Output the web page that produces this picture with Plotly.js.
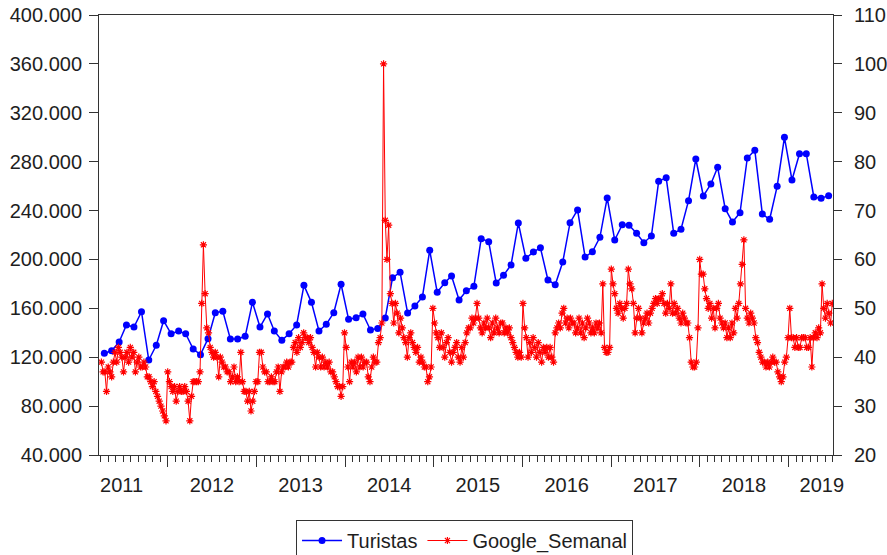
<!DOCTYPE html>
<html>
<head>
<meta charset="utf-8">
<script src="https://cdn.plot.ly/plotly-3.0.1.min.js"></script>
<style>html,body{margin:0;padding:0;background:#fff;}#chart{width:887px;height:555px;}</style>
</head>
<body>
<div id="chart"></div>
<script>
// ---- Data: Turistas (monthly, from April 2011) ----
const turistasStart = [2011, 4];
const turistas2011 = [123200,125300,132500,146400,144700,157200,117700,129800,149900];
const turistas2012 = [139200,141500,139200,126700,122100,135200,156400,157600,134900,134900,137100,164900];
const turistas2013 = [144700,155400,141500,133800,139200,146400,178800,164900,141500,146900,156400,179700];
const turistas2014 = [151000,152300,155400,142300,143600,152100,185100,189500,156200,161900,169300,207500];
const turistas2015 = [173100,181000,186500,166800,174400,178000,217000,214500,180700,187000,195500,229800];
const turistas2016 = [200900,206100,209600,183200,179300,197900,230100,240500,202000,206300,218100,250300];
const turistas2017 = [215900,228400,227900,221400,213700,219200,263900,266900,221400,224700,248100,282200];
const turistas2018 = [251900,261700,275400,241500,230600,238200,283000,289300,237200,232800,259800,299900];
const turistas2019 = [265000,286500,286500,251100,250000,252200];

// ---- Data: Google_Semanal (weekly, first week 2011-04-03) ----
const googleStart = '2011-04-03';
const google2011 = [39,37,37,33,38,37,36,39,41,39,42,41,40,37,40,41,39,42,40,41,37,39,40,38,38,39,38,36,36,35,34,35,33,32,31,30,29,28,27];
const google2012 = [37,35,34,33,34,31,33,34,33,33,34,33,31,27,32,35,35,35,35,37,51,63,53,46,45,42,41,40,41,40,36,40,39,38,38,37,37,35,36,38,35,36,35,41,35,33,33,31,33,29,31,33,35];
const google2013 = [35,41,41,38,37,37,35,35,36,35,35,37,38,33,37,38,38,39,38,39,39,42,43,41,44,42,43,45,44,44,43,44,42,41,38,41,40,38,40,38,39,38,39,37,37,36,35,34,34,32,34,45];
const google2014 = [42,38,35,39,38,39,37,40,38,40,38,39,39,36,35,38,40,39,39,43,44,47,100,68,60,67,53,51,47,51,49,45,48,46,44,43,40,44,45,43,42,41,42,39,40,39,38,38,35,36,38,50];
const google2015 = [47,45,44,42,45,42,40,43,44,41,39,41,42,43,40,39,42,40,43,45,46,46,48,47,48,51,48,46,45,47,46,48,46,44,47,45,48,46,45,47,47,45,46,45,46,44,43,42,41,40,41,40];
const google2016 = [51,46,44,40,43,41,44,42,40,43,41,39,42,41,42,40,42,40,39,45,46,47,46,49,50,47,48,46,48,47,47,45,46,48,45,47,44,46,48,47,45,46,45,47,46,47,45,55,42,41,41,42];
const google2017 = [58,55,53,50,49,51,50,48,50,51,58,55,54,51,45,48,50,48,45,47,48,49,47,49,50,51,52,51,52,52,53,51,49,51,50,55,49,51,49,50,48,47,49,48,47,47,44,39,38,38,39,46,60];
const google2018 = [57,57,54,52,50,51,48,50,46,50,51,48,47,46,47,44,46,44,47,45,50,48,51,55,59,64,50,48,47,49,48,47,44,43,41,40,39,39,38,39,38,39,40,39,39,37,36,35,36,39,40,44];
const google2019 = [50,44,44,42,44,42,42,44,44,44,42,42,44,38,44,45,44,46,45,55,50,48,51,49,47,51];

// ---- Tick labels ----
const yearLabels = ['2011','2012','2013','2014','2015','2016','2017','2018','2019'];

// ---- Build series ----
const turistas = [].concat(turistas2011, turistas2012, turistas2013, turistas2014, turistas2015, turistas2016, turistas2017, turistas2018, turistas2019);
const turistasDates = turistas.map((v, i) => {
  const m0 = turistasStart[1] - 1 + i;
  const y = turistasStart[0] + Math.floor(m0 / 12);
  const m = (m0 % 12) + 1;
  return y + '-' + String(m).padStart(2, '0') + '-15';
});

const google = [].concat(google2011, google2012, google2013, google2014, google2015, google2016, google2017, google2018, google2019);
const g0 = Date.parse(googleStart + 'T00:00:00Z');
const googleDates = google.map((v, i) => new Date(g0 + i * 7 * 86400000).toISOString().slice(0, 10));

// ---- Layout helpers (positions, not data) ----
const xRange = ['2011-03-24', '2019-07-03'];
const labelPos = yearLabels.map(y => y === '2011' ? '2011-06-25' : (y === '2019' ? '2019-05-18' : y + '-07-01'));

const axisColor = '#333333';
const textColor = '#1e1e1e';
const fontFam = 'Liberation Sans, Arial, Helvetica, sans-serif';

const traces = [
  {
    x: turistasDates, y: turistas, name: 'Turistas', type: 'scatter', mode: 'lines+markers',
    xaxis: 'x', yaxis: 'y',
    line: {color: '#0000FF', width: 1.5},
    marker: {symbol: 'circle', size: 7, color: '#0000FF'}
  },
  {
    x: googleDates, y: google, name: 'Google_Semanal', type: 'scatter', mode: 'lines+markers',
    xaxis: 'x', yaxis: 'y2',
    line: {color: '#FF0000', width: 1},
    marker: {symbol: 'asterisk-open', size: 6, color: '#FF0000', line: {color: '#FF0000', width: 1.2}}
  },
  {
    x: [], y: [], xaxis: 'x2', yaxis: 'y', type: 'scatter', mode: 'markers', showlegend: false, hoverinfo: 'skip'
  }
];

const layout = {
  width: 887, height: 555,
  margin: {l: 99, r: 54, t: 15, b: 100, pad: 0},
  paper_bgcolor: '#ffffff', plot_bgcolor: '#ffffff',
  separators: ',.',
  font: {family: fontFam, size: 20, color: textColor},
  showlegend: true,
  legend: {
    orientation: 'h', xref: 'paper', x: 0.498, xanchor: 'center',
    yref: 'container', y: 1 - 520 / 555, yanchor: 'top',
    bordercolor: axisColor, borderwidth: 1, bgcolor: '#ffffff', itemwidth: 40,
    font: {family: fontFam, size: 20, color: textColor}, itemclick: false
  },
  xaxis: {
    type: 'date', range: xRange,
    tickmode: 'linear', tick0: '2011-01-01', dtick: 'M12',
    ticks: 'outside', ticklen: 11, tickwidth: 1, tickcolor: axisColor,
    showticklabels: false,
    showline: true, linecolor: axisColor, linewidth: 1, mirror: true,
    showgrid: false, zeroline: false,
    minor: {ticks: 'outside', tickmode: 'linear', tick0: '2011-01-01', dtick: 'M1', ticklen: 6, tickwidth: 1, tickcolor: axisColor, showgrid: false}
  },
  xaxis2: {
    type: 'date', range: xRange, overlaying: 'x', anchor: 'y', side: 'bottom',
    tickmode: 'array', tickvals: labelPos, ticktext: yearLabels,
    ticks: '', showline: false, showgrid: false, zeroline: false,
    ticklabelstandoff: 16,
    tickfont: {family: fontFam, size: 20, color: textColor}
  },
  yaxis: {
    range: [40000, 400000], tickmode: 'linear', tick0: 40000, dtick: 40000,
    tickformat: ',d',
    ticks: 'outside', ticklen: 9, tickwidth: 1, tickcolor: axisColor,
    showline: true, linecolor: axisColor, linewidth: 1,
    showgrid: false, zeroline: false,
    tickfont: {family: fontFam, size: 20, color: textColor},
    ticklabelstandoff: 3
  },
  yaxis2: {
    range: [20, 110], tickmode: 'linear', tick0: 20, dtick: 10,
    overlaying: 'y', side: 'right', anchor: 'x',
    ticks: 'outside', ticklen: 8, tickwidth: 1, tickcolor: axisColor,
    showline: true, linecolor: axisColor, linewidth: 1,
    showgrid: false, zeroline: false,
    tickfont: {family: fontFam, size: 20, color: textColor},
    ticklabelstandoff: 8
  }
};

Plotly.newPlot('chart', traces, layout, {displayModeBar: false, staticPlot: true});
</script>
</body>
</html>
